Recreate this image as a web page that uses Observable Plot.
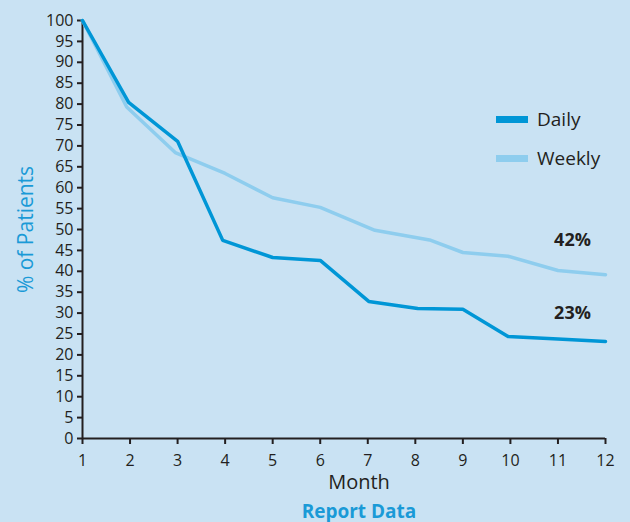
<!DOCTYPE html>
<html>
<head>
<meta charset="utf-8">
<script src="https://cdn.jsdelivr.net/npm/d3@7"></script>
<script src="https://cdn.jsdelivr.net/npm/@observablehq/plot@0.6"></script>
<style>
  html, body { margin: 0; padding: 0; background: #c9e2f3; }
  #wrap { position: relative; width: 630px; height: 522px; overflow: hidden; background: #c9e2f3; font-family: "Open Sans", "Noto Sans", sans-serif; }
  #wrap svg { position: absolute; left: 0; top: 0; }
  g[aria-label="y-axis label"] text { fill: #1a9ad7; font-size: 21px; }
  .legend { position: absolute; left: 496px; top: 0; color: #231f20; font-size: 19px; }
  .legend .row { position: absolute; left: 0; display: flex; align-items: center; white-space: nowrap; }
  .legend .sw { width: 32px; height: 7px; margin-right: 9px; }
  #caption { position: absolute; left: 0; width: 630px; top: 501px; text-align: center; padding-left: 88px; box-sizing: border-box;
             color: #1a9ad7; font-weight: bold; font-size: 19px; line-height: 20px; }
</style>
</head>
<body>
<div id="wrap"></div>
<script>
const months = [1, 2, 3, 4, 5, 6, 7, 8, 9, 10, 11, 12];
const dailyMonths = [1, 1.97, 3, 3.95, 5, 6, 7.02, 8.05, 9, 9.95, 11, 12];
const dailyValues = [100, 80.4, 71.1, 47.4, 43.3, 42.6, 32.8, 31.1, 30.9, 24.4, 23.8, 23.2];
const weeklyMonths = [1, 1.93, 2.95, 4, 5, 6, 7.15, 8.3, 9, 9.95, 11, 12];
const weeklyValues = [100, 79.3, 68.4, 63.4, 57.6, 55.3, 49.8, 47.5, 44.5, 43.6, 40.2, 39.2];
const yTicks = d3.range(0, 101, 5);
const seriesNames = ["Daily", "Weekly"];
const seriesColors = ["#0096d6", "#8ecdee"];
const endLabels = ["42%", "23%"];

const daily = dailyMonths.map((m, i) => ({month: m, value: dailyValues[i], series: "Daily"}));
const weekly = weeklyMonths.map((m, i) => ({month: m, value: weeklyValues[i], series: "Weekly"}));
const weeklyEnd = [{month: weekly[weekly.length - 1].month, value: weekly[weekly.length - 1].value, label: endLabels[0]}];
const dailyEnd = [{month: daily[daily.length - 1].month, value: daily[daily.length - 1].value, label: endLabels[1]}];

const ink = "#231f20";
const chart = Plot.plot({
  width: 630,
  height: 498,
  marginLeft: 82,
  marginRight: 25,
  marginTop: 20,
  marginBottom: 60,
  style: {background: "#c9e2f3", fontFamily: "'Open Sans', 'Noto Sans', sans-serif", fontSize: "16px", color: ink},
  x: {domain: [1, 12]},
  y: {domain: [0, 100]},
  marks: [
    Plot.axisY({ticks: yTicks, tickSize: 5, tickPadding: 4, strokeWidth: 2, label: "% of Patients", labelAnchor: "center", labelArrow: "none", labelOffset: 64}),
    Plot.axisX({ticks: months, tickSize: 6, tickPadding: 10, strokeWidth: 2, label: null}),
    Plot.ruleX([1], {stroke: ink, strokeWidth: 2}),
    Plot.ruleY([0], {stroke: ink, strokeWidth: 2}),
    Plot.line(weekly, {x: "month", y: "value", stroke: seriesColors[1], strokeWidth: 3.5}),
    Plot.line(daily, {x: "month", y: "value", stroke: seriesColors[0], strokeWidth: 3.5}),
    Plot.text(weeklyEnd, {x: "month", y: "value", text: "label", dx: -33, dy: -34, fontWeight: "bold", fontSize: 18, fill: ink}),
    Plot.text(dailyEnd, {x: "month", y: "value", text: "label", dx: -33, dy: -28, fontWeight: "bold", fontSize: 18, fill: ink}),
    Plot.text(["Month"], {frameAnchor: "bottom", dx: 15, dy: 50, fontSize: 20, fill: ink})
  ]
});

const wrap = document.getElementById("wrap");
wrap.appendChild(chart);

const legend = document.createElement("div");
legend.className = "legend";
seriesNames.forEach((name, i) => {
  const row = document.createElement("div");
  row.className = "row";
  row.style.top = (106 + i * 39) + "px";
  const sw = document.createElement("div");
  sw.className = "sw";
  sw.style.background = seriesColors[i];
  const t = document.createElement("span");
  t.textContent = name;
  row.appendChild(sw);
  row.appendChild(t);
  legend.appendChild(row);
});
wrap.appendChild(legend);

const cap = document.createElement("div");
cap.id = "caption";
cap.textContent = "Report Data";
wrap.appendChild(cap);
</script>
</body>
</html>
